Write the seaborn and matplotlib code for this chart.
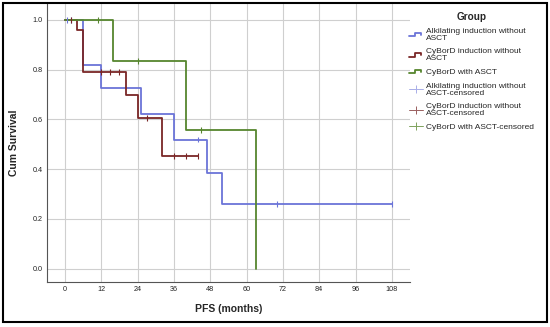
import numpy as np
import pandas as pd
import matplotlib
matplotlib.use("Agg")
import matplotlib.pyplot as plt
from matplotlib.lines import Line2D
from matplotlib.legend_handler import HandlerBase
from matplotlib.patches import Rectangle
import seaborn as sns

# --- data (Kaplan-Meier steps) ---
groups = ["Alkilating induction without ASCT",
          "CyBorD induction without ASCT",
          "CyBorD with ASCT"]

alk_t = [0, 6, 12, 25, 36, 47, 52, 108]
alk_s = [1.0, 0.818, 0.727, 0.623, 0.519, 0.386, 0.258, 0.258]
alk_ct = [0.5, 2, 44, 70, 108]
alk_cs = [1.0, 1.0, 0.519, 0.258, 0.258]

cyb_t = [0, 4, 6, 20, 24, 32, 44]
cyb_s = [1.0, 0.96, 0.79, 0.70, 0.604, 0.453, 0.453]
cyb_ct = [2, 12, 15, 18, 27, 36, 40, 44]
cyb_cs = [1.0, 0.79, 0.79, 0.79, 0.604, 0.453, 0.453, 0.453]

asct_t = [0, 16, 40, 63]
asct_s = [1.0, 0.833, 0.556, 0.0]
asct_ct = [11, 24, 45]
asct_cs = [1.0, 0.833, 0.556]

colors = {groups[0]: "#6b74d8", groups[1]: "#7a2626", groups[2]: "#56862e"}
light = {groups[0]: "#a9aee8", groups[1]: "#9a6060", groups[2]: "#7ea25c"}

steps = pd.concat([
    pd.DataFrame({"group": groups[0], "t": alk_t, "s": alk_s}),
    pd.DataFrame({"group": groups[1], "t": cyb_t, "s": cyb_s}),
    pd.DataFrame({"group": groups[2], "t": asct_t, "s": asct_s}),
])
cens = pd.concat([
    pd.DataFrame({"group": groups[0], "t": alk_ct, "s": alk_cs}),
    pd.DataFrame({"group": groups[1], "t": cyb_ct, "s": cyb_cs}),
    pd.DataFrame({"group": groups[2], "t": asct_ct, "s": asct_cs}),
])

sns.set_style("white")
plt.rcParams["font.family"] = ["Liberation Sans", "DejaVu Sans"]

fig = plt.figure(figsize=(5.5, 3.27), dpi=100)
ax = fig.add_axes([47/550, 1-282/327, (410-47)/550, (282-4)/327])

sns.lineplot(data=steps, x="t", y="s", hue="group", palette=colors,
             drawstyle="steps-post", estimator=None, sort=False,
             linewidth=1.3, legend=False, ax=ax)
sns.scatterplot(data=cens, x="t", y="s", hue="group", palette=colors,
                marker="|", s=18, linewidth=0.8, legend=False, ax=ax, zorder=5)

ax.set_xlim(-5.95, 114)
ax.set_ylim(-0.054, 1.064)
ax.set_xticks(np.arange(0, 109, 12))
ax.set_yticks(np.arange(0, 1.01, 0.2))
ax.set_yticklabels([f"{v:.1f}" for v in np.arange(0, 1.01, 0.2)])
ax.grid(True, color="#cfcfcf", linewidth=0.8)
ax.set_axisbelow(True)
for sp in ["top", "right"]:
    ax.spines[sp].set_visible(False)
for sp in ["left", "bottom"]:
    ax.spines[sp].set_color("#555555")
    ax.spines[sp].set_linewidth(0.8)
ax.tick_params(length=0, pad=3, labelsize=5.2, colors="#222222")
ax.set_xlabel("PFS (months)", fontsize=7.5, fontweight="bold", labelpad=8)
ax.set_ylabel("Cum Survival", fontsize=7.5, fontweight="bold", labelpad=10)


class StepHandler(HandlerBase):
    def create_artists(self, legend, orig, xd, yd, w, h, fontsize, trans):
        y0 = yd + h * 0.2
        y1 = yd + h * 0.75
        xs = [xd, xd + w * 0.45, xd + w * 0.45, xd + w * 0.85, xd + w * 0.85]
        ys = [y0, y0, y1, y1, y0 + h * 0.25]
        ln = Line2D(xs, ys, color=orig.get_color(), linewidth=1.3, transform=trans)
        return [ln]


handles = [Line2D([], [], color=colors[g]) for g in groups]
handles += [Line2D([], [], color=light[g], marker="|", markersize=6,
                   linewidth=0.7, markeredgewidth=0.7) for g in groups]
labels = ["Alkilating induction without\nASCT",
          "CyBorD induction without\nASCT",
          "CyBorD with ASCT",
          "Alkilating induction without\nASCT-censored",
          "CyBorD induction without\nASCT-censored",
          "CyBorD with ASCT-censored"]
hmap = {h: StepHandler() for h in handles[:3]}
leg = fig.legend(handles, labels, handler_map=hmap, title="Group",
                 loc="upper left", bbox_to_anchor=(403/550, 1-6/327),
                 frameon=False, fontsize=6, title_fontproperties={"weight": "bold", "size": 7.2},
                 handlelength=1.7, handletextpad=0.3, labelspacing=0.75,
                 borderpad=0.2)
for t in leg.get_texts():
    t.set_linespacing(1.0)

fig.patches.append(Rectangle((3/550, 1-322/327), 544/550, 319/327, transform=fig.transFigure,
                             fill=False, edgecolor="black", linewidth=1.5))

fig.savefig("out.png", dpi=100)
